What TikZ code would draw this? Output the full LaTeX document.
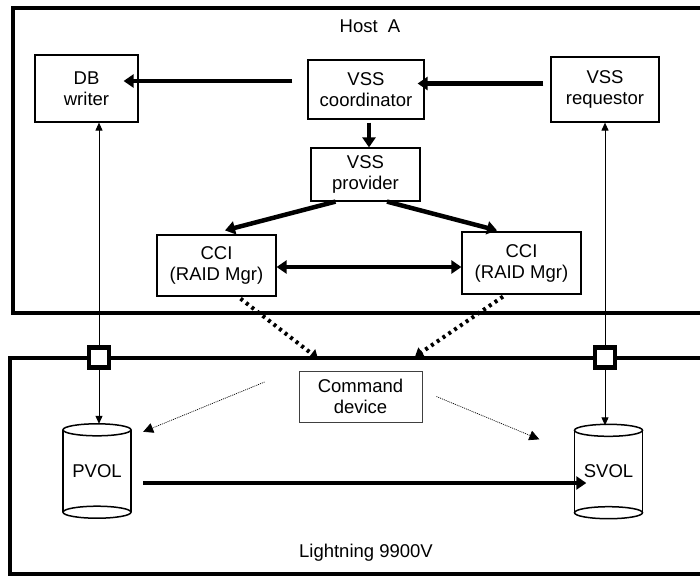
\documentclass[tikz,border=0pt]{standalone}
\usepackage{fontspec}
\setmainfont{Liberation Sans}
\usetikzlibrary{arrows.meta}
\begin{document}
\begin{tikzpicture}[x=1pt,y=-1pt,
 box/.style={draw, line width=1.2pt, inner sep=0pt, align=center, font=\fontsize{18.5}{21}\selectfont},
 lbl/.style={inner sep=0pt, align=center, font=\fontsize{18.5}{21}\selectfont},
 big/.style={line width=4.5pt, -{Triangle[length=10pt,width=13pt]}},
 bigboth/.style={line width=4.5pt, {Triangle[length=10pt,width=13pt]}-{Triangle[length=10pt,width=13pt]}},
 thinarr/.style={line width=1pt, -{Triangle[length=8pt,width=7pt]}},
 dots/.style={line width=4pt, dash pattern=on 3pt off 4pt, -{Triangle[length=8pt,width=11pt]}},
 fine/.style={line width=0.7pt, dash pattern=on 1pt off 1pt, -{Triangle[length=10pt,width=10pt]}},
 frame/.style={line width=4pt},
 port/.style={draw, line width=4.5pt, fill=white, minimum size=20pt, inner sep=0pt},
 cylline/.style={line width=1.5pt},
 vol/.style={inner sep=0pt, minimum width=68pt, minimum height=94pt, font=\fontsize{18.5}{21}\selectfont}
]
\useasboundingbox (0,0) rectangle (700,576);
% frames
\draw[frame] (13,8) rectangle (712,313);
\draw[frame] (10,358) rectangle (712,574);
\node[lbl] (host) at (370,26) {Host~~A};
\node[lbl] (light) at (366,553) {Lightning 9900V};
% boxes
\node[box, minimum width=103pt, minimum height=67pt] (db) at (86.5,88.5) {DB\\writer};
\node[box, minimum width=116pt, minimum height=59pt] (coord) at (366,89.5) {VSS\\coordinator};
\node[box, minimum width=108pt, minimum height=65pt] (req) at (605,89.5) {VSS\\requestor};
\node[box, minimum width=109pt, minimum height=53pt] (prov) at (365.5,174.5) {VSS\\provider};
\node[box, minimum width=119pt, minimum height=61pt] (cciL) at (216.5,265.5) {CCI\\(RAID Mgr)};
\node[box, minimum width=119pt, minimum height=62pt] (cciR) at (521.5,263) {CCI\\(RAID Mgr)};
\node[box, draw=black!75, line width=0.8pt, minimum width=123pt, minimum height=51pt] (cmd) at (360.5,396.5) {Command\\device};
% volumes
\node[vol] (pvol) at (97,471) {PVOL};
\node[vol] (svol) at (608.5,471.5) {SVOL};
\foreach \v in {pvol,svol}{
  \draw[cylline] ([yshift=-6pt]\v.north west) -- ([yshift=6pt]\v.south west);
  \draw[cylline] ([yshift=-6pt]\v.north east) -- ([yshift=6pt]\v.south east);
  \draw[cylline] ([yshift=-6pt]\v.north) ellipse[x radius=34pt, y radius=6pt];
  \draw[cylline] ([yshift=6pt]\v.south) ellipse[x radius=34pt, y radius=6pt];
}
% ports
\node[port] (pL) at (99,357.5) {};
\node[port] (pR) at (605,357.5) {};
% connectors
\draw[big] ([xshift=-15pt,yshift=8.5pt]coord.west) -- ([xshift=-15pt,yshift=8.5pt]coord.west -| db.east);
\draw[big] ([xshift=-7pt,yshift=6pt]req.west) -- ([xshift=-7pt,yshift=6pt]req.west -| coord.east);
\draw[big] ([xshift=3pt,yshift=-3pt]coord.south) -- ([xshift=3pt]coord.south |- prov.north);
\draw[big] ([xshift=-30pt]prov.south) -- ([xshift=8.5pt,yshift=4pt]cciL.north);
\draw[big] ([xshift=21.5pt]prov.south) -- ([xshift=-24.5pt,yshift=1pt]cciR.north);
\draw[bigboth] ([yshift=-1.5pt]cciL.east) -- ([yshift=-1.5pt]cciL.east -| cciR.west);
\coordinate (dL) at ([xshift=-42.5pt,yshift=12pt]cmd.north);
\coordinate (dR) at ([xshift=54.5pt,yshift=14pt]cmd.north);
\draw[dots] ([xshift=24pt,yshift=-2pt]cciL.south) -- (dL);
\draw[dots] ([xshift=-18.5pt,yshift=-2pt]cciR.south) -- (dR);
\coordinate (fL) at ([xshift=12pt,yshift=-8pt]pvol.north east);
\coordinate (fR) at ([xshift=-35pt,yshift=-15pt]svol.north west);
\draw[fine] ([xshift=-34pt,yshift=14.5pt]cmd.west) -- (fL);
\draw[fine] ([xshift=14pt]cmd.east) -- (fR);
\draw[big] ([xshift=12pt,yshift=-12pt]pvol.east) -- ([xshift=12pt,yshift=-12pt]pvol.east -| svol.west);
\draw[thinarr] (pL.north) -- (pL.north |- db.south);
\draw[thinarr] (pL.south) -- (pL.south |- pvol.north);
\draw[thinarr] (pR.north) -- (pR.north |- req.south);
\draw[thinarr] (pR.south) -- ([yshift=-1pt]pR.south |- svol.north);
\end{tikzpicture}
\end{document}
